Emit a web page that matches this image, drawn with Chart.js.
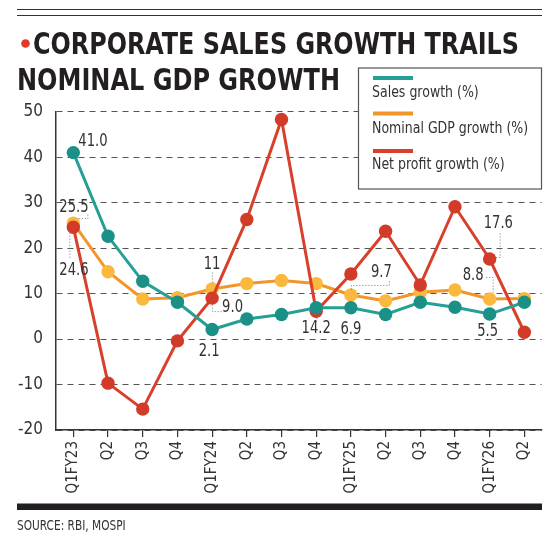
<!DOCTYPE html>
<html>
<head>
<meta charset="utf-8">
<script src="https://cdn.jsdelivr.net/npm/chart.js@4.4.1/dist/chart.umd.min.js"></script>
<style>
  html, body { margin: 0; padding: 0; background: #fff; }
  #wrap { width: 553px; height: 546px; position: relative; }
</style>
</head>
<body>
<div id="wrap"><canvas id="c"></canvas></div>
<script>
// ---- Data ----
const categories = ['Q1FY23','Q2','Q3','Q4','Q1FY24','Q2','Q3','Q4','Q1FY25','Q2','Q3','Q4','Q1FY26','Q2'];
const salesGrowth = [41.0, 22.6, 12.7, 8.1, 2.1, 4.4, 5.4, 6.9, 6.9, 5.4, 8.1, 7.0, 5.5, 8.1];
const gdpGrowth   = [25.5, 14.8, 8.8, 9.1, 11.0, 12.2, 12.9, 12.2, 9.7, 8.4, 10.3, 10.8, 8.8, 8.9];
const profitGrowth = [24.6, -9.7, -15.4, -0.4, 9.0, 26.3, 48.3, 6.1, 14.3, 23.7, 11.9, 29.1, 17.6, 1.5];
const seriesNames = ['Sales growth (%)', 'Nominal GDP growth (%)', 'Net profit growth (%)'];
const yTicks = { min: -20, max: 50, step: 10 };
const titleLines = ['CORPORATE SALES GROWTH TRAILS', 'NOMINAL GDP GROWTH'];
const sourceText = 'SOURCE: RBI, MOSPI';
// Value labels: text, dataset index, point index
const labelTexts = ['41.0','25.5','24.6','11','9.0','2.1','14.2','6.9','9.7','8.8','17.6','5.5'];
const labelSeries = [0,1,2,1,2,0,2,0,1,1,2,0];
const labelPoints = [0,0,0,4,4,4,7,8,8,12,12,12];

// ---- Styles ----
const FONT = '"Liberation Sans Narrow", "DejaVu Sans Condensed", "Roboto Condensed", sans-serif';
const lineColors = ['#26a096', '#f3962a', '#d8402c'];
const pointColors = ['#1a9086', '#fcb83c', '#d23b28'];
// label placement relative to the point (style only)
const labelStyle = [
  {dx:5, dy:-7, align:'left'},
  {dx:-14, dy:-11, align:'left', leader:[[5,-5],[14,-5],[14,-9]]},
  {dx:-14, dy:48, align:'left', leader:[[-4,5],[-4,31]]},
  {dx:0, dy:-20, align:'center', leader:[[0,-17],[0,-7]]},
  {dx:10, dy:14, align:'left', leader:[[0,6],[0,13],[9,13]]},
  {dx:-3, dy:26, align:'center'},
  {dx:0, dy:22, align:'center', leader:[[0,6],[0,10]]},
  {dx:0, dy:26, align:'center'},
  {dx:20, dy:-18, align:'left', leader:[[0,-6],[0,-10],[38,-10],[38,-14]]},
  {dx:-27, dy:-19, align:'left', leader:[[-4,-22],[3,-22],[3,-6]]},
  {dx:-6, dy:-31, align:'left', leader:[[6,-2],[10,-2],[10,-26]]},
  {dx:-2, dy:22, align:'center'}
];

function drawFitText(ctx, text, x, baseline, targetW, font) {
  ctx.save();
  ctx.font = font;
  const w = ctx.measureText(text).width;
  ctx.translate(x, baseline);
  ctx.scale(targetW / w, 1);
  ctx.textAlign = 'left';
  ctx.textBaseline = 'alphabetic';
  ctx.fillText(text, 0, 0);
  ctx.restore();
}
function drawNarrowText(ctx, text, x, baseline, font, sx, align) {
  ctx.save();
  ctx.font = font;
  ctx.translate(x, baseline);
  ctx.scale(sx, 1);
  ctx.textAlign = align;
  ctx.textBaseline = 'alphabetic';
  ctx.fillText(text, 0, 0);
  ctx.restore();
}

const decor = {
  id: 'decor',
  beforeDraw(chart) {
    const ctx = chart.ctx;
    ctx.save();
    // top rules
    ctx.strokeStyle = '#333';
    ctx.lineWidth = 1.2;
    ctx.beginPath(); ctx.moveTo(17, 9.5); ctx.lineTo(542, 9.5); ctx.stroke();
    ctx.beginPath(); ctx.moveTo(17, 15.5); ctx.lineTo(542, 15.5); ctx.stroke();
    // red dot
    ctx.fillStyle = '#e03a2a';
    ctx.beginPath(); ctx.arc(25.5, 43.5, 4.3, 0, Math.PI * 2); ctx.fill();
    // title
    ctx.fillStyle = '#231f20';
    drawFitText(ctx, titleLines[0], 33, 53.5, 486, 'bold 31px ' + FONT);
    drawFitText(ctx, titleLines[1], 17, 89.5, 323, 'bold 31px ' + FONT);
    // bottom bar
    ctx.fillStyle = '#231f20';
    ctx.fillRect(17, 503.5, 525, 6.5);
    // source
    ctx.fillStyle = '#333';
    drawNarrowText(ctx, sourceText, 17, 529.5, '14px ' + FONT, 0.84, 'left');
    ctx.restore();
  },
  afterDraw(chart) {
    const ctx = chart.ctx;
    const xs = chart.scales.x, ys = chart.scales.y;
    ctx.save();
    // value labels
    for (let i = 0; i < labelTexts.length; i++) {
      const ds = chart.data.datasets[labelSeries[i]];
      const px = xs.getPixelForValue(labelPoints[i]);
      const py = ys.getPixelForValue(ds.data[labelPoints[i]]);
      const st = labelStyle[i];
      if (st.leader) {
        ctx.save();
        ctx.strokeStyle = '#777';
        ctx.lineWidth = 1;
        ctx.setLineDash([1, 2]);
        ctx.beginPath();
        st.leader.forEach((p, k) => {
          if (k === 0) ctx.moveTo(px + p[0] + 0.5, py + p[1] + 0.5);
          else ctx.lineTo(px + p[0] + 0.5, py + p[1] + 0.5);
        });
        ctx.stroke();
        ctx.restore();
      }
      ctx.fillStyle = '#333';
      drawNarrowText(ctx, labelTexts[i], px + st.dx, py + st.dy, '17px ' + FONT, 0.86, st.align);
    }
    // legend box
    const bx = 358, by = 67.5, bw = 184, bh = 122;
    ctx.fillStyle = '#fff';
    ctx.fillRect(bx, by, bw, bh);
    ctx.strokeStyle = '#555';
    ctx.lineWidth = 1.2;
    ctx.strokeRect(bx + 0.5, by + 0.5, bw - 1, bh - 1);
    const rowLine = [78, 113.5, 151];
    const rowText = [96.5, 132.5, 169];
    chart.data.datasets.forEach((ds, k) => {
      ctx.fillStyle = ds.borderColor;
      ctx.fillRect(373, rowLine[k] - 2, 40, 4);
      ctx.fillStyle = '#333';
      drawNarrowText(ctx, ds.label, 372, rowText[k], '15.5px ' + FONT, 0.9, 'left');
    });
    ctx.restore();
  }
};

new Chart(document.getElementById('c'), {
  type: 'line',
  data: {
    labels: categories,
    datasets: [
      { label: seriesNames[0], data: salesGrowth, borderColor: lineColors[0], backgroundColor: pointColors[0],
        pointBackgroundColor: pointColors[0], pointBorderWidth: 0, pointRadius: 6.7, borderWidth: 3, order: 0 },
      { label: seriesNames[1], data: gdpGrowth, borderColor: lineColors[1], backgroundColor: pointColors[1],
        pointBackgroundColor: pointColors[1], pointBorderWidth: 0, pointRadius: 6.7, borderWidth: 3, order: 2 },
      { label: seriesNames[2], data: profitGrowth, borderColor: lineColors[2], backgroundColor: pointColors[2],
        pointBackgroundColor: pointColors[2], pointBorderWidth: 0, pointRadius: 6.7, borderWidth: 3, order: 1 }
    ]
  },
  options: {
    responsive: true,
    maintainAspectRatio: false,
    animation: false,
    layout: { padding: { top: 111.7, right: 11.3, left: 0, bottom: 0 } },
    plugins: { legend: { display: false }, tooltip: { enabled: false }, title: { display: false } },
    scales: {
      x: {
        offset: true,
        afterFit(s) { s.height = 116; },
        grid: { drawOnChartArea: false, drawTicks: true, tickLength: 7, color: '#333', lineWidth: 1.2, offset: false },
        border: { display: true, color: '#333', width: 1.5 },
        ticks: { maxRotation: 90, minRotation: 90, padding: 4, font: { family: FONT, size: 15 }, color: '#333', autoSkip: false }
      },
      y: {
        min: yTicks.min, max: yTicks.max,
        afterFit(s) { s.width = 56; },
        grid: { drawTicks: false, color: '#555', lineWidth: 1 },
        border: { display: true, color: '#333', width: 1.5, dash: [6, 5] },
        ticks: { stepSize: yTicks.step, padding: 13, font: { family: FONT, size: 17 }, color: '#333' }
      }
    }
  },
  plugins: [decor]
});
</script>
</body>
</html>
